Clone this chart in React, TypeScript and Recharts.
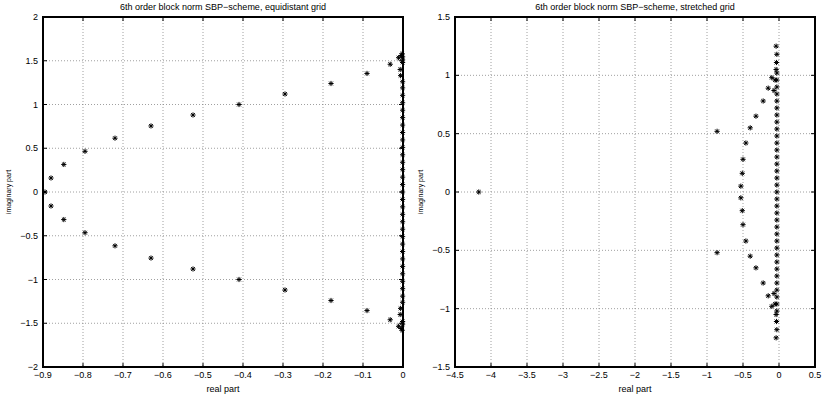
import { ScatterChart, Scatter, XAxis, YAxis, CartesianGrid } from "recharts";

// 6th order block norm SBP, equidistant grid: eigenvalues (real, imaginary)
const equiRe = [
    -0.895,
    -0.88, -0.88, -0.848, -0.848, -0.795, -0.795, -0.72, -0.72, -0.63, -0.63,
    -0.525, -0.525, -0.41, -0.41, -0.295, -0.295, -0.18, -0.18, -0.09, -0.09,
    -0.032, -0.032, -0.011, -0.011, -0.004, -0.004, -0.002, -0.002,
    -0.007, -0.007, -0.006, -0.006,
    -0.001, -0.001, -0.001, -0.001, -0.001, -0.001, -0.001, -0.001, -0.001,
    -0.001, -0.001, -0.001, -0.001, -0.001, -0.001, -0.001, -0.001, -0.001,
    -0.001, -0.001, -0.001, -0.001, -0.001, -0.001, -0.001, -0.001, -0.001,
    -0.001, -0.001, -0.001, -0.001, -0.001, -0.001, -0.001, -0.001, -0.001,
];
const equiIm = [
    0,
    0.16, -0.16, 0.315, -0.315, 0.465, -0.465, 0.615, -0.615, 0.755, -0.755,
    0.88, -0.88, 1.0, -1.0, 1.12, -1.12, 1.24, -1.24, 1.355, -1.355,
    1.46, -1.46, 1.535, -1.535, 1.56, -1.56, 1.58, -1.58,
    1.4, -1.4, 1.33, -1.33,
    0, 0.085, -0.085, 0.17, -0.17, 0.255, -0.255, 0.34, -0.34,
    0.425, -0.425, 0.51, -0.51, 0.595, -0.595, 0.68, -0.68, 0.765, -0.765,
    0.85, -0.85, 0.935, -0.935, 1.02, -1.02, 1.105, -1.105, 1.19, -1.19,
    1.26, -1.26, 1.48, -1.48, 1.51, -1.51, 1.545, -1.545,
];

// 6th order block norm SBP, stretched grid
const stretchRe = [
    -4.17, -0.86, -0.86,
    -0.53, -0.53, -0.51, -0.51, -0.5, -0.5, -0.46, -0.46, -0.4, -0.4,
    -0.32, -0.32, -0.22, -0.22, -0.15, -0.15, -0.1, -0.1, -0.07, -0.07,
    -0.055, -0.055, -0.04, -0.04, -0.04, -0.04, -0.035, -0.035,
    -0.03, -0.03, -0.03, -0.03, -0.03, -0.03, -0.03, -0.03, -0.03, -0.03,
    -0.03, -0.03, -0.03, -0.03, -0.03, -0.03, -0.03, -0.03, -0.03, -0.03,
    -0.03, -0.03, -0.03, -0.03, -0.03, -0.03, -0.03, -0.03, -0.03, -0.03,
    -0.03, -0.03, -0.03, -0.03, -0.03, -0.03, -0.03,
];
const stretchIm = [
    0, 0.52, -0.52,
    0.05, -0.05, 0.16, -0.16, 0.28, -0.28, 0.42, -0.42, 0.55, -0.55,
    0.65, -0.65, 0.78, -0.78, 0.89, -0.89, 0.98, -0.98, 0.87, -0.87,
    0.96, -0.96, 1.05, -1.05, 1.25, -1.25, 1.11, -1.11,
    0, 0.06, -0.06, 0.12, -0.12, 0.18, -0.18, 0.24, -0.24, 0.3, -0.3,
    0.36, -0.36, 0.42, -0.42, 0.48, -0.48, 0.54, -0.54, 0.6, -0.6,
    0.66, -0.66, 0.72, -0.72, 0.78, -0.78, 0.84, -0.84, 0.9, -0.9,
    0.96, -0.96, 1.02, -1.02, 1.18, -1.18,
];

const equiXTicks = [-0.9, -0.8, -0.7, -0.6, -0.5, -0.4, -0.3, -0.2, -0.1, 0];
const equiYTicks = [-2, -1.5, -1, -0.5, 0, 0.5, 1, 1.5, 2];
const stretchXTicks = [-4.5, -4, -3.5, -3, -2.5, -2, -1.5, -1, -0.5, 0, 0.5];
const stretchYTicks = [-1.5, -1, -0.5, 0, 0.5, 1, 1.5];

const FONT = "'Liberation Sans', Arial, sans-serif";
const PLOT_LEFT = 43;
const PLOT_TOP = 17;
const PLOT_W = 360;
const PLOT_H = 350;

const fmt = (v: number) => (v < 0 ? "\u2212" + String(-v) : String(v));

const toPoints = (re: number[], im: number[]) => re.map((r, i) => ({ re: r, im: im[i] }));

function Star(props: any) {
    const { cx, cy } = props;
    const r = 2.6;
    const d = r * 0.72;
    return (
        <g stroke="#000" strokeWidth={1}>
            <line x1={cx - r} y1={cy} x2={cx + r} y2={cy} />
            <line x1={cx} y1={cy - r} x2={cx} y2={cy + r} />
            <line x1={cx - d} y1={cy - d} x2={cx + d} y2={cy + d} />
            <line x1={cx - d} y1={cy + d} x2={cx + d} y2={cy - d} />
        </g>
    );
}

// tick marks point inward, MATLAB style, on both opposite sides of the box
const BottomTick = ({ x, payload }: any) => (
    <g>
        <line x1={x} x2={x} y1={PLOT_TOP + PLOT_H} y2={PLOT_TOP + PLOT_H - 4} stroke="#000" />
        <line x1={x} x2={x} y1={PLOT_TOP} y2={PLOT_TOP + 4} stroke="#000" />
        <text x={x} y={PLOT_TOP + PLOT_H + 11} textAnchor="middle" fontSize={9} fontFamily={FONT} fill="#000">
            {fmt(payload.value)}
        </text>
    </g>
);
const LeftTick = ({ y, payload }: any) => (
    <g>
        <line x1={PLOT_LEFT} x2={PLOT_LEFT + 4} y1={y} y2={y} stroke="#000" />
        <line x1={PLOT_LEFT + PLOT_W} x2={PLOT_LEFT + PLOT_W - 4} y1={y} y2={y} stroke="#000" />
        <text x={PLOT_LEFT - 5} y={y + 3} textAnchor="end" fontSize={9} fontFamily={FONT} fill="#000">
            {fmt(payload.value)}
        </text>
    </g>
);

const axisLine = { stroke: "#000", strokeWidth: 2 };

function EigenPlot({ title, data, xTicks, yTicks }: any) {
    const xDomain = [xTicks[0], xTicks[xTicks.length - 1]];
    const yDomain = [yTicks[0], yTicks[yTicks.length - 1]];
    const cx = PLOT_LEFT + PLOT_W / 2;
    return (
        <div style={{ position: "relative", width: 412, height: 400 }}>
            <ScatterChart width={412} height={400} margin={{ top: PLOT_TOP, right: 9, bottom: 13, left: 0 }}>
                <CartesianGrid stroke="#888" strokeDasharray="1 2" strokeWidth={0.8} />
                <XAxis
                    type="number"
                    dataKey="re"
                    domain={xDomain}
                    ticks={xTicks}
                    height={20}
                    tickSize={0}
                    tickMargin={0}
                    tickLine={false}
                    axisLine={axisLine}
                    tick={<BottomTick />}
                    interval={0}
                    label={{
                        content: () => (
                            <g fontFamily={FONT} fill="#000" textAnchor="middle" fontSize={9}>
                                <text x={cx} y={392}>real part</text>
                                <text x={cx} y={10}>{title}</text>
                            </g>
                        ),
                    }}
                />
                <YAxis
                    type="number"
                    dataKey="im"
                    domain={yDomain}
                    ticks={yTicks}
                    width={PLOT_LEFT}
                    tickSize={0}
                    tickMargin={0}
                    tickLine={false}
                    axisLine={axisLine}
                    tick={<LeftTick />}
                    interval={0}
                    label={{
                        content: () => {
                            const cy = PLOT_TOP + PLOT_H / 2;
                            return (
                                <text
                                    x={8}
                                    y={cy}
                                    transform={`rotate(-90 8 ${cy})`}
                                    textAnchor="middle"
                                    dominantBaseline="central"
                                    fontSize={7}
                                    fontFamily={FONT}
                                >
                                    imaginary part
                                </text>
                            );
                        },
                    }}
                />
                <Scatter data={data} shape={<Star />} isAnimationActive={false} />
            </ScatterChart>
            <div
                style={{
                    position: "absolute",
                    left: PLOT_LEFT - 1,
                    top: PLOT_TOP - 1,
                    width: PLOT_W + 2,
                    height: PLOT_H + 2,
                    border: "2px solid #000",
                    boxSizing: "border-box",
                    pointerEvents: "none",
                }}
            />
        </div>
    );
}

export default function App() {
    return (
        <div style={{ position: "fixed", left: 0, top: 0, width: 824, height: 400, display: "flex", background: "#fff" }}>
            <EigenPlot
                title={"6th order block norm SBP\u2212scheme, equidistant grid"}
                data={toPoints(equiRe, equiIm)}
                xTicks={equiXTicks}
                yTicks={equiYTicks}
            />
            <EigenPlot
                title={"6th order block norm SBP\u2212scheme, stretched grid"}
                data={toPoints(stretchRe, stretchIm)}
                xTicks={stretchXTicks}
                yTicks={stretchYTicks}
            />
        </div>
    );
}
